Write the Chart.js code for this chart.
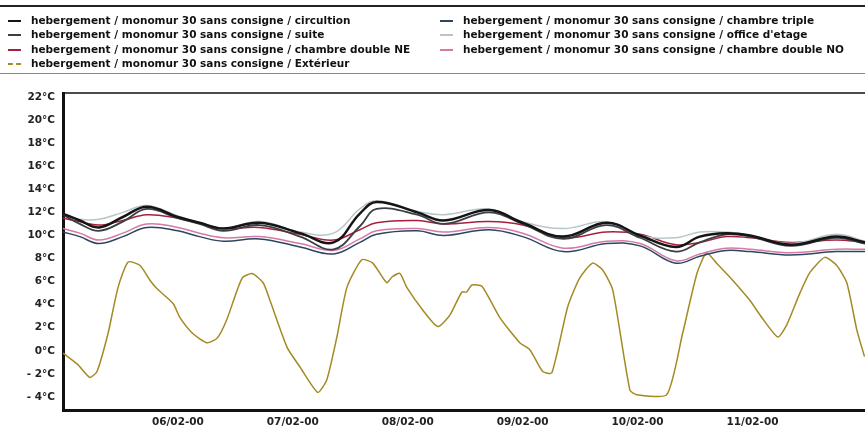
<!DOCTYPE html>
<html>
<head>
<meta charset="utf-8">
<script src="https://cdn.jsdelivr.net/npm/chart.js@4"></script>
<style>
  html, body { margin: 0; padding: 0; background: #fff; }
  #wrap { position: relative; width: 865px; height: 430px; }
  #legend {
    position: absolute; left: 0; top: 5px; width: 865px; height: 66px;
    border-top: 2px solid #222; border-bottom: 1px solid #888;
    font: bold 10.5px "DejaVu Sans", sans-serif; color: #111;
  }
  .item { position: absolute; white-space: nowrap; line-height: 12px; }
  .sw { display: inline-block; width: 13px; height: 0; border-top: 2px solid; vertical-align: middle; margin-right: 10px; }
</style>
</head>
<body>
<div id="wrap">
  <canvas id="chart" width="865" height="430"></canvas>
  <div id="legend"></div>
</div>
<script>
/* =========================
   DATA
========================= */

const seriesNames = [
  'hebergement / monomur 30 sans consigne / circultion',
  'hebergement / monomur 30 sans consigne / suite',
  'hebergement / monomur 30 sans consigne / chambre double NE',
  'hebergement / monomur 30 sans consigne / Extérieur',
  'hebergement / monomur 30 sans consigne / chambre triple',
  'hebergement / monomur 30 sans consigne / office d\'etage',
  'hebergement / monomur 30 sans consigne / chambre double NO'
];

// hours since 05/02-00 00:00
const dayTicks = [24, 48, 72, 96, 120, 144];
const dayLabels = ['06/02-00', '07/02-00', '08/02-00', '09/02-00', '10/02-00', '11/02-00'];
const yTicks = [-4, -2, 0, 2, 4, 6, 8, 10, 12, 14, 16, 18, 20, 22];

const indoorHours = [0, 3.5, 7.5, 12.5, 17.5, 24, 28.5, 33.5, 41, 49.5, 56.5, 62, 65.5, 74, 79.5, 89, 96, 104.5, 113.5, 120.5, 128, 133, 138.5, 143.5, 152, 161.5, 167.5];

const circulation = [11.9, 11.3, 10.7, 11.6, 12.5, 11.6, 11.1, 10.6, 11.1, 10.2, 9.4, 11.9, 12.9, 12.0, 11.3, 12.2, 11.1, 9.9, 11.1, 10.0, 9.0, 9.9, 10.2, 10.0, 9.2, 9.9, 9.4];
const suite = [11.8, 11.0, 10.4, 11.2, 12.3, 11.5, 11.0, 10.4, 10.9, 9.9, 8.8, 10.8, 12.3, 11.8, 11.0, 12.0, 11.0, 9.7, 10.9, 9.8, 8.6, 9.4, 10.1, 9.9, 9.1, 9.8, 9.3];
const doubleNE = [11.5, 11.2, 10.9, 11.3, 11.8, 11.5, 11.1, 10.6, 10.7, 10.1, 9.6, 10.5, 11.1, 11.3, 11.0, 11.2, 10.9, 9.8, 10.3, 10.1, 9.2, 9.4, 9.9, 9.8, 9.4, 9.6, 9.4];
const triple = [10.3, 9.9, 9.3, 9.9, 10.7, 10.4, 9.9, 9.5, 9.7, 9.0, 8.4, 9.4, 10.1, 10.4, 10.0, 10.5, 9.9, 8.6, 9.3, 9.1, 7.6, 8.2, 8.7, 8.6, 8.3, 8.6, 8.6];
const office = [11.9, 11.4, 11.4, 12.0, 12.6, 11.7, 11.1, 10.6, 11.2, 10.3, 10.2, 12.3, 13.0, 12.1, 11.8, 12.3, 11.2, 10.6, 11.2, 10.0, 9.8, 10.3, 10.3, 10.0, 9.3, 10.1, 9.5];
const doubleNO = [10.6, 10.2, 9.6, 10.2, 11.0, 10.7, 10.2, 9.8, 9.9, 9.3, 8.7, 9.7, 10.4, 10.6, 10.3, 10.7, 10.2, 8.9, 9.5, 9.3, 7.8, 8.4, 8.9, 8.8, 8.5, 8.8, 8.8];

const extHours = [0, 3.1, 5.6, 7.1, 9.4, 11.5, 13.6, 16.1, 18.2, 19.6, 23.0, 24.4, 27.1, 30.1, 32.2, 34.2, 37.4, 39.5, 41.8, 43.2, 46.8, 49.5, 53.2, 55.1, 57.2, 59.3, 62.4, 64.7, 67.6, 68.7, 70.4, 71.8, 75.2, 78.3, 80.8, 83.3, 84.3, 85.4, 87.5, 91.2, 95.4, 97.5, 100.2, 102.1, 105.4, 107.9, 110.6, 112.7, 114.8, 118.4, 119.8, 126.1, 129.4, 132.4, 134.4, 136.5, 139.9, 143.4, 146.1, 149.3, 151.1, 153.9, 156.0, 159.1, 161.6, 163.7, 165.8, 167.4];
const exterieur = [-0.2, -1.2, -2.3, -1.8, 1.5, 5.5, 7.7, 7.4, 6.1, 5.4, 4.1, 2.9, 1.5, 0.7, 1.1, 2.7, 6.3, 6.7, 5.9, 4.4, 0.3, -1.4, -3.6, -2.5, 1.2, 5.5, 7.9, 7.6, 5.9, 6.4, 6.7, 5.5, 3.5, 2.1, 3.1, 5.1, 5.1, 5.7, 5.6, 2.9, 0.7, 0.1, -1.8, -1.9, 3.8, 6.3, 7.6, 7.0, 5.3, -3.4, -3.8, -3.8, 1.5, 6.7, 8.5, 7.6, 6.1, 4.4, 2.8, 1.2, 2.2, 5.0, 6.8, 8.1, 7.4, 5.9, 1.8, -0.5];

const colors = ['#151515', '#3a3f44', '#a8213c', '#a48a22', '#2c4660', '#b9c6c9', '#d47aa6'];

/* =========================
   CHART
========================= */

const pts = (hs, vs) => hs.map((h, i) => ({ x: h, y: vs[i] }));

const datasets = [
  { data: pts(indoorHours, circulation), width: 2.5 },
  { data: pts(indoorHours, suite), width: 1.8 },
  { data: pts(indoorHours, doubleNE), width: 1.5 },
  { data: pts(extHours, exterieur), width: 1.5 },
  { data: pts(indoorHours, triple), width: 1.5 },
  { data: pts(indoorHours, office), width: 1.5 },
  { data: pts(indoorHours, doubleNO), width: 1.5 }
].map((d, i) => ({
  label: seriesNames[i],
  data: d.data,
  borderColor: colors[i],
  borderWidth: d.width,
  pointRadius: 0,
  tension: i === 3 ? 0.2 : 0.4,
  fill: false
}));

// draw order: exterior first, black circulation on top
const order = [3, 6, 4, 2, 1, 5, 0];
order.forEach((idx, k) => { datasets[idx].order = order.length - k; });

const topBorder = {
  id: 'topBorder',
  afterDraw(chart) {
    const { ctx, chartArea: a } = chart;
    ctx.save();
    ctx.strokeStyle = '#111';
    ctx.lineWidth = 1.5;
    ctx.beginPath();
    ctx.moveTo(a.left, a.top);
    ctx.lineTo(a.right, a.top);
    ctx.stroke();
    ctx.restore();
  }
};

const tickFont = { family: '"DejaVu Sans", sans-serif', size: 10.5, weight: 'bold' };

new Chart(document.getElementById('chart'), {
  type: 'line',
  data: { datasets },
  plugins: [topBorder],
  options: {
    responsive: false,
    animation: false,
    layout: { padding: { top: 93, left: 0, right: 0, bottom: 0 } },
    plugins: { legend: { display: false }, tooltip: { enabled: false } },
    scales: {
      x: {
        type: 'linear',
        min: 0,
        max: 167.5,
        grid: { display: false, drawTicks: false },
        border: { display: true, color: '#111', width: 3 },
        afterBuildTicks: s => { s.ticks = dayTicks.map(v => ({ value: v })); },
        afterFit: s => { s.height = 20; },
        ticks: {
          font: tickFont,
          color: '#222',
          padding: 6,
          maxRotation: 0,
          callback: v => dayLabels[dayTicks.indexOf(v)]
        }
      },
      y: {
        min: -5.13,
        max: 22.35,
        grid: { display: false, drawTicks: false },
        border: { display: true, color: '#111', width: 3 },
        afterBuildTicks: s => { s.ticks = yTicks.map(v => ({ value: v })); },
        afterFit: s => { s.width = 63; },
        ticks: {
          font: tickFont,
          color: '#222',
          padding: 8,
          callback: v => (v < 0 ? '- ' + (-v) : v) + '°C'
        }
      }
    }
  }
});

/* =========================
   LEGEND (two columns)
========================= */

const legendPos = [
  [8, 7], [8, 21], [8, 36], [8, 50],
  [440, 7], [440, 21], [440, 36]
];
const legend = document.getElementById('legend');
seriesNames.forEach((name, i) => {
  const el = document.createElement('div');
  el.className = 'item';
  el.style.left = legendPos[i][0] + 'px';
  el.style.top = legendPos[i][1] + 'px';
  const sw = document.createElement('span');
  sw.className = 'sw';
  sw.style.borderColor = colors[i];
  if (i === 3) sw.style.borderTopStyle = 'dashed';
  el.appendChild(sw);
  el.appendChild(document.createTextNode(name));
  legend.appendChild(el);
});
</script>
</body>
</html>
